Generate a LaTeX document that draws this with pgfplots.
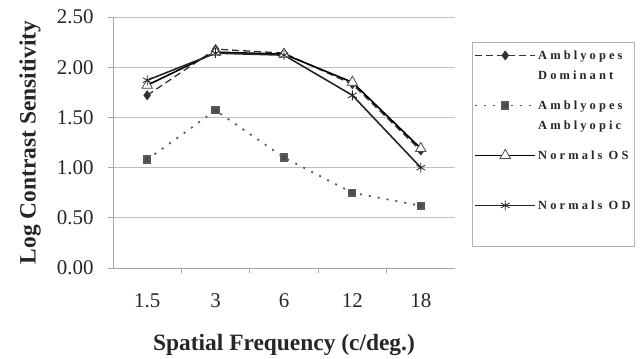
\documentclass[border=0pt]{standalone}
\usepackage{fontspec}
\setmainfont{Liberation Serif}
\newfontfamily\legfont[LetterSpace=25]{Liberation Serif}
\usepackage{pgfplots}
\pgfplotsset{compat=1.18}
\begin{document}
\begin{tikzpicture}
\useasboundingbox (-113bp,-91bp) rectangle (529bp,268bp);
\begin{axis}[
  scale only axis, width=342bp, height=251bp,
  at={(0,0)}, anchor=south west,
  xmin=-0.5, xmax=4.5, ymin=0, ymax=2.5,
  axis lines*=left,
  axis line style={gray!70, line width=0.8bp},
  xtick={0.5,1.5,2.5,3.5}, xticklabels={},
  extra x ticks={0,1,2,3,4},
  extra x tick labels={1.5,3,6,12,18},
  extra x tick style={major tick length=0pt},
  ytick={0,0.5,...,2.5},
  tick align=outside, major tick length=5bp,
  tick style={gray!70, line width=0.8bp},
  ymajorgrids, grid style={gray!50, line width=0.8bp},
  /pgf/number format/assume math mode=true,
  yticklabel style={/pgf/number format/fixed, /pgf/number format/fixed zerofill, /pgf/number format/precision=2, xshift=-11bp},
  xticklabel style={yshift=-22bp},
  tick label style={font=\fontsize{21}{24}\selectfont, text=black!85},
  ylabel={Log Contrast Sensitivity},
  xlabel={Spatial Frequency (c/deg.)},
  label style={font=\bfseries\fontsize{23.5}{27}\selectfont, text=black!85},
  ylabel style={at={(axis description cs:-0.2427,0.5)}, anchor=center},
  xlabel style={at={(axis description cs:0.5,-0.3068)}, anchor=center},
  legend cell align=left,
  legend style={at={(1.0497,0.9004)}, anchor=north west, draw=gray!60, line width=0.8bp,
    font=\legfont\bfseries\fontsize{12.5}{20}\selectfont, text=black!85,
    row sep=0pt, inner sep=2bp,
    nodes={text height=13bp, text depth=33bp, inner sep=2bp},
    cells={anchor=base west}},
  legend image code/.code={\draw[mark repeat=2,mark phase=2,#1] plot coordinates {(0bp,4bp)(30bp,4bp)(60bp,4bp)};},
]
\addplot[black!80, line width=1.3bp, dash pattern=on 7bp off 4bp, mark=diamond*, mark size=4bp, mark options={solid, fill=black!80}]
  coordinates {(0,1.72)(1,2.18)(2,2.14)(3,1.83)(4,1.17)};
\addplot[gray!70!black, line width=1.8bp, dash pattern=on 2bp off 7bp, mark=square*, mark size=3.2bp, mark options={solid, fill=gray!60!black}]
  coordinates {(0,1.08)(1,1.57)(2,1.10)(3,0.75)(4,0.62)};
\addplot[black, line width=1.6bp, mark=triangle*, mark size=6bp, mark options={solid, fill=white, line width=0.8bp, draw=black!70}]
  coordinates {(0,1.82)(1,2.15)(2,2.13)(3,1.85)(4,1.19)};
\addplot[black!85, line width=1.6bp, mark=asterisk, mark size=5bp, mark options={solid, line width=0.8bp}]
  coordinates {(0,1.87)(1,2.14)(2,2.12)(3,1.72)(4,1.00)};
\legend{{\begin{tabular}[t]{@{}l@{}}Amblyopes\\Dominant\end{tabular}},
  {\begin{tabular}[t]{@{}l@{}}Amblyopes\\Amblyopic\end{tabular}},
  {Normals OS},
  {Normals OD}}
\end{axis}
\end{tikzpicture}
\end{document}
